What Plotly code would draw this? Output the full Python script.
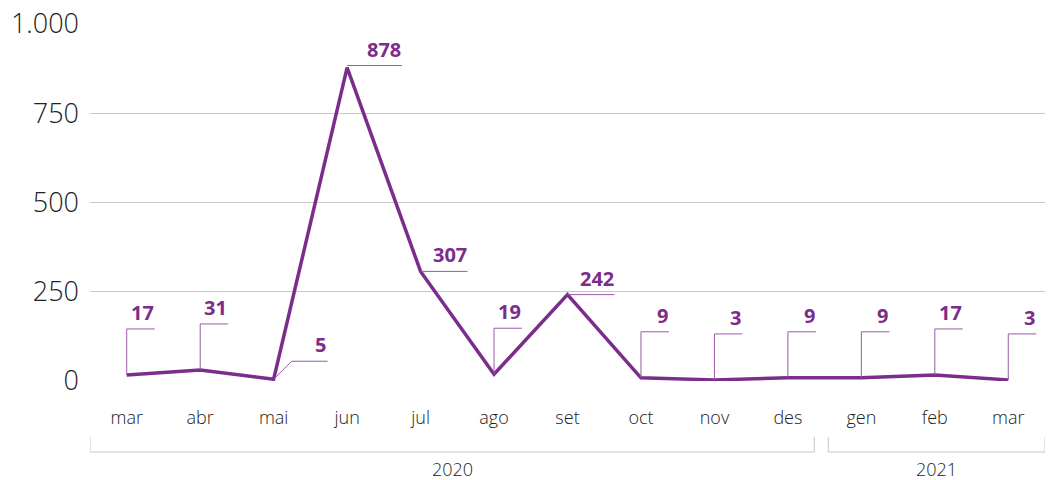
import plotly.graph_objects as go

months = ["mar", "abr", "mai", "jun", "jul", "ago", "set", "oct", "nov", "des", "gen", "feb", "mar"]
values = [17, 31, 5, 878, 307, 19, 242, 9, 3, 9, 9, 17, 3]
years = ["2020", "2021"]
year_first_idx = [0, 10]
year_last_idx = [9, 12]
y_ticks = [0, 250, 500, 750, 1000]

# leader style per point: "up" = vertical then horizontal, "flat" = horizontal, "diag" = diagonal
leader = ["up", "up", "diag", "flat", "flat", "up", "flat", "up", "up", "up", "up", "up", "up"]

PURPLE = "#7b2d8c"
LEADER = "#9a5aa8"
GRID = "#c8c8c8"
TEXT = "#222222"
FONT = "Open Sans"

idx = list(range(len(months)))

fig = go.Figure()
fig.add_trace(go.Scatter(
    x=idx, y=values, mode="lines",
    line=dict(color=PURPLE, width=3.5),
    hoverinfo="skip", cliponaxis=False,
))

shapes = []
annotations = []
for i, v in zip(idx, values):
    kind = leader[i]
    if kind == "up":
        path = "M0,0 L0,46 L28,46"
        lx, ly = 29, 47
    elif kind == "diag":
        path = "M0,0 L18,18 L54,18"
        lx, ly = 54, 19
    else:
        path = "M0,2 L55,2" if values[i] > 500 else "M0,0 L47,0"
        lx, ly = (56, 3) if values[i] > 500 else (48, 1)
    shapes.append(dict(
        type="path", xref="x", yref="y",
        xsizemode="pixel", ysizemode="pixel",
        xanchor=i, yanchor=v, path=path,
        line=dict(color=LEADER, width=1),
    ))
    annotations.append(dict(
        x=i, y=v, xref="x", yref="y", text=f"<b>{v}</b>", showarrow=False,
        xanchor="right", yanchor="bottom", xshift=lx, yshift=ly,
        font=dict(family=FONT, size=20, color=PURPLE),
    ))

# year brackets below the axis
for yr, a, b in zip(years, year_first_idx, year_last_idx):
    x0 = a - 0.5 if a == 0 else a - 0.45
    x1 = b + 0.5 if b == len(months) - 1 else b + 0.36
    shapes.append(dict(type="line", xref="x", yref="paper", ysizemode="pixel", yanchor=0,
                       x0=x0, x1=x1, y0=-71, y1=-71, line=dict(color=GRID, width=1)))
    for xe in (x0, x1):
        shapes.append(dict(type="line", xref="x", yref="paper", ysizemode="pixel", yanchor=0,
                           x0=xe, x1=xe, y0=-56, y1=-71, line=dict(color=GRID, width=1)))
    annotations.append(dict(
        x=(x0 + x1) / 2, y=0, xref="x", yref="paper", text=yr, showarrow=False,
        yshift=-88, yanchor="middle", xanchor="center",
        font=dict(family=FONT, size=18, color=TEXT, weight=300),
    ))

fig.update_layout(
    width=1057, height=480,
    margin=dict(l=90, r=12, t=24, b=99, autoexpand=False),
    paper_bgcolor="white", plot_bgcolor="white",
    showlegend=False,
    separators=",.",
    shapes=shapes, annotations=annotations,
    xaxis=dict(
        range=[-0.5, 12.5], tickvals=idx, ticktext=months,
        showgrid=False, zeroline=False, showline=False, ticks="",
        ticklabelstandoff=24, automargin=False,
        tickfont=dict(family=FONT, size=18, color=TEXT, weight=300),
        fixedrange=True,
    ),
    yaxis=dict(
        range=[0, 1000], tickvals=y_ticks, tickformat=",d",
        showgrid=True, gridcolor=GRID, gridwidth=1, zeroline=False, showline=False,
        ticks="", ticklabelstandoff=10, automargin=False,
        tickfont=dict(family=FONT, size=27, color=TEXT, weight=300),
        fixedrange=True,
    ),
)

fig.write_html("out.html", config={"displayModeBar": False},
               post_script="document.body.style.margin='0';")
